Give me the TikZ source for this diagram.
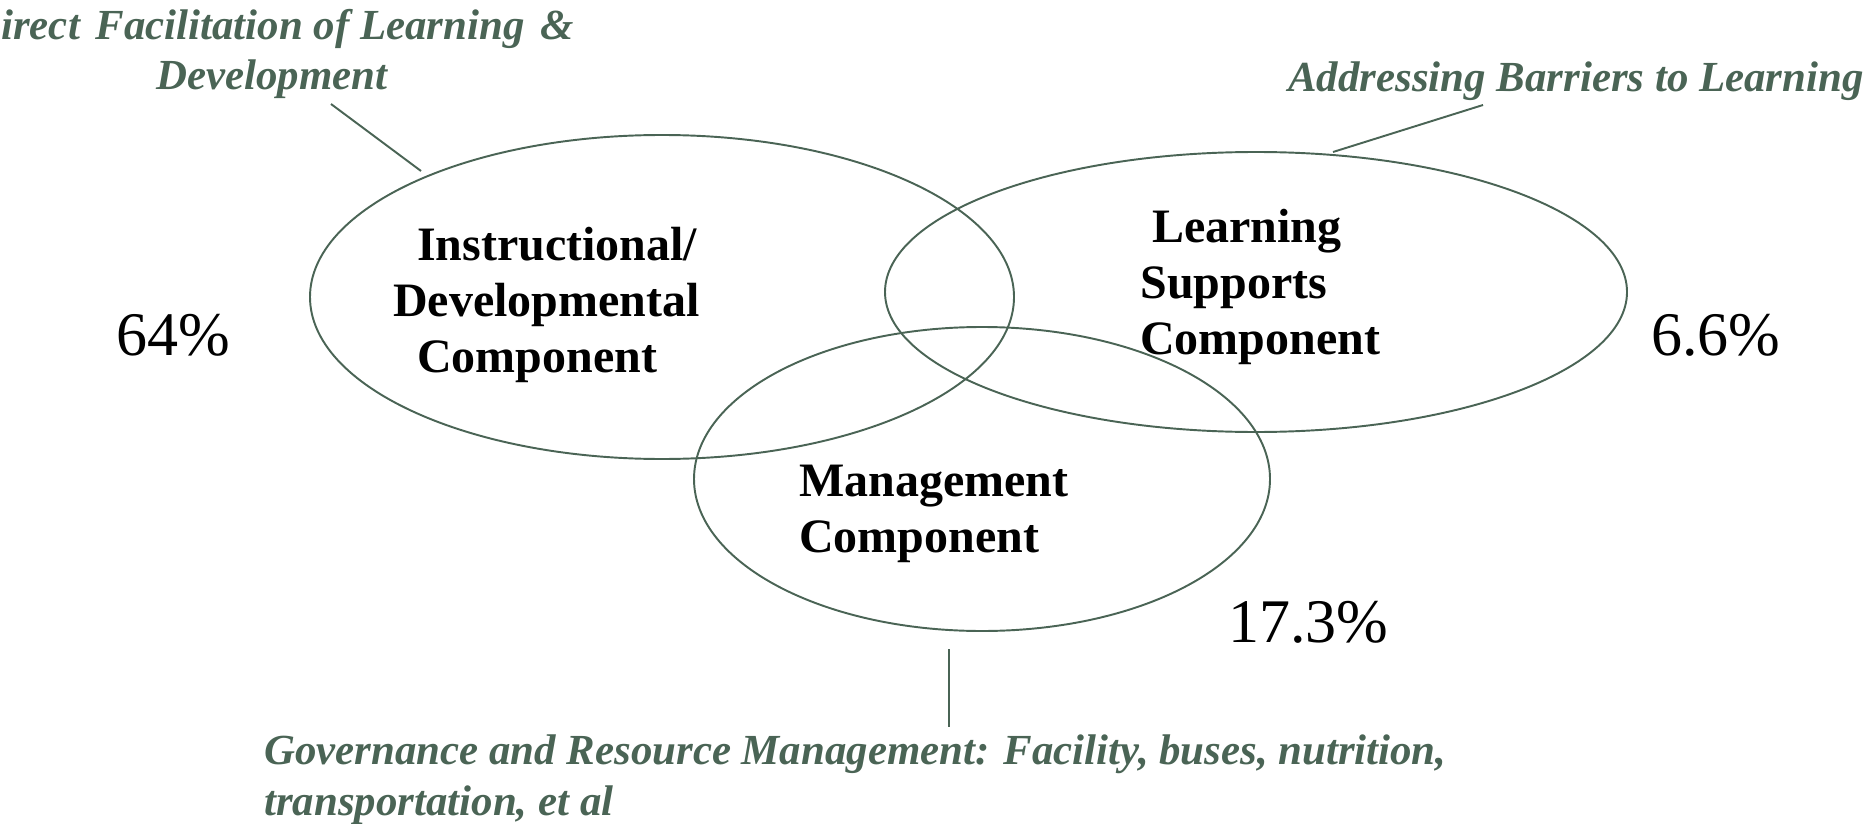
\documentclass[tikz,border=0pt]{standalone}
\usepackage{fontspec}
\setmainfont{Liberation Serif}
\definecolor{notegreen}{RGB}{74,100,85}
\tikzset{
  ring/.style={draw=notegreen, line width=1.1pt},
  lead/.style={draw=notegreen, line width=1.1pt},
  note/.style={text=notegreen, inner sep=0pt, font=\fontsize{24.4}{28.5}\selectfont\bfseries\itshape},
  comp/.style={inner sep=0pt, font=\fontsize{27.3}{31.6}\selectfont\bfseries},
  pct/.style={inner sep=0pt, font=\fontsize{35.3}{40}\selectfont},
}
\begin{document}
\begin{tikzpicture}[x=0.02cm,y=-0.02cm]
    \useasboundingbox (0,0) rectangle (1875,824);
    \clip (0,0) rectangle (1875,824);
    \coordinate (I) at (662,297);
    \coordinate (L) at (1256,292);
    \coordinate (M) at (982,479);
    \draw[ring] (I) ellipse [x radius=352, y radius=162];
    \draw[ring] (L) ellipse [x radius=371, y radius=140];
    \draw[ring] (M) ellipse [x radius=288, y radius=152];
    % components (base = last line)
    \node[comp, anchor=base west, align=left] (instr) at (393,372)
      {\hspace*{13.6pt}Instructional/\\Developmental\\\hspace*{13.6pt}Component};
    \node[comp, anchor=base west, align=left] (learn) at (1140,354)
      {\hspace*{6.8pt}Learning\\Supports\\Component};
    \node[comp, anchor=base west, align=left] (mgmt) at (799,552)
      {Management\\Component};
    % shares
    \node[pct, anchor=base west] (instr pct) at (116,355) {64\%};
    \node[pct, anchor=base west] (learn pct) at (1651,355) {6.6\%};
    \node[pct, anchor=base west] (mgmt pct) at (1228,642) {17.3\%};
    % notes
    \node[note, anchor=base, align=center] (instr note) at (272,90)
      {Direct\hspace{9pt}Facilitation of Learning\hspace{9pt}\&\\Development};
    \node[note, anchor=base west] (learn note) at (1288,92) {Addressing Barriers to Learning};
    \node[note, anchor=base west, align=left] (mgmt note) at (264,815)
      {Governance and Resource Management: Facility, buses, nutrition,\\transportation, et al};
    \coordinate (instr from) at (331,104);
    \coordinate (instr to) at (421,171);
    \coordinate (learn from) at (1483,105);
    \coordinate (learn to) at (1333,152);
    \coordinate (mgmt from) at (949,649);
    \coordinate (mgmt to) at (949,727);
    \draw[lead] (instr from) -- (instr to);
    \draw[lead] (learn from) -- (learn to);
    \draw[lead] (mgmt from) -- (mgmt to);
  \end{tikzpicture}
\end{document}
